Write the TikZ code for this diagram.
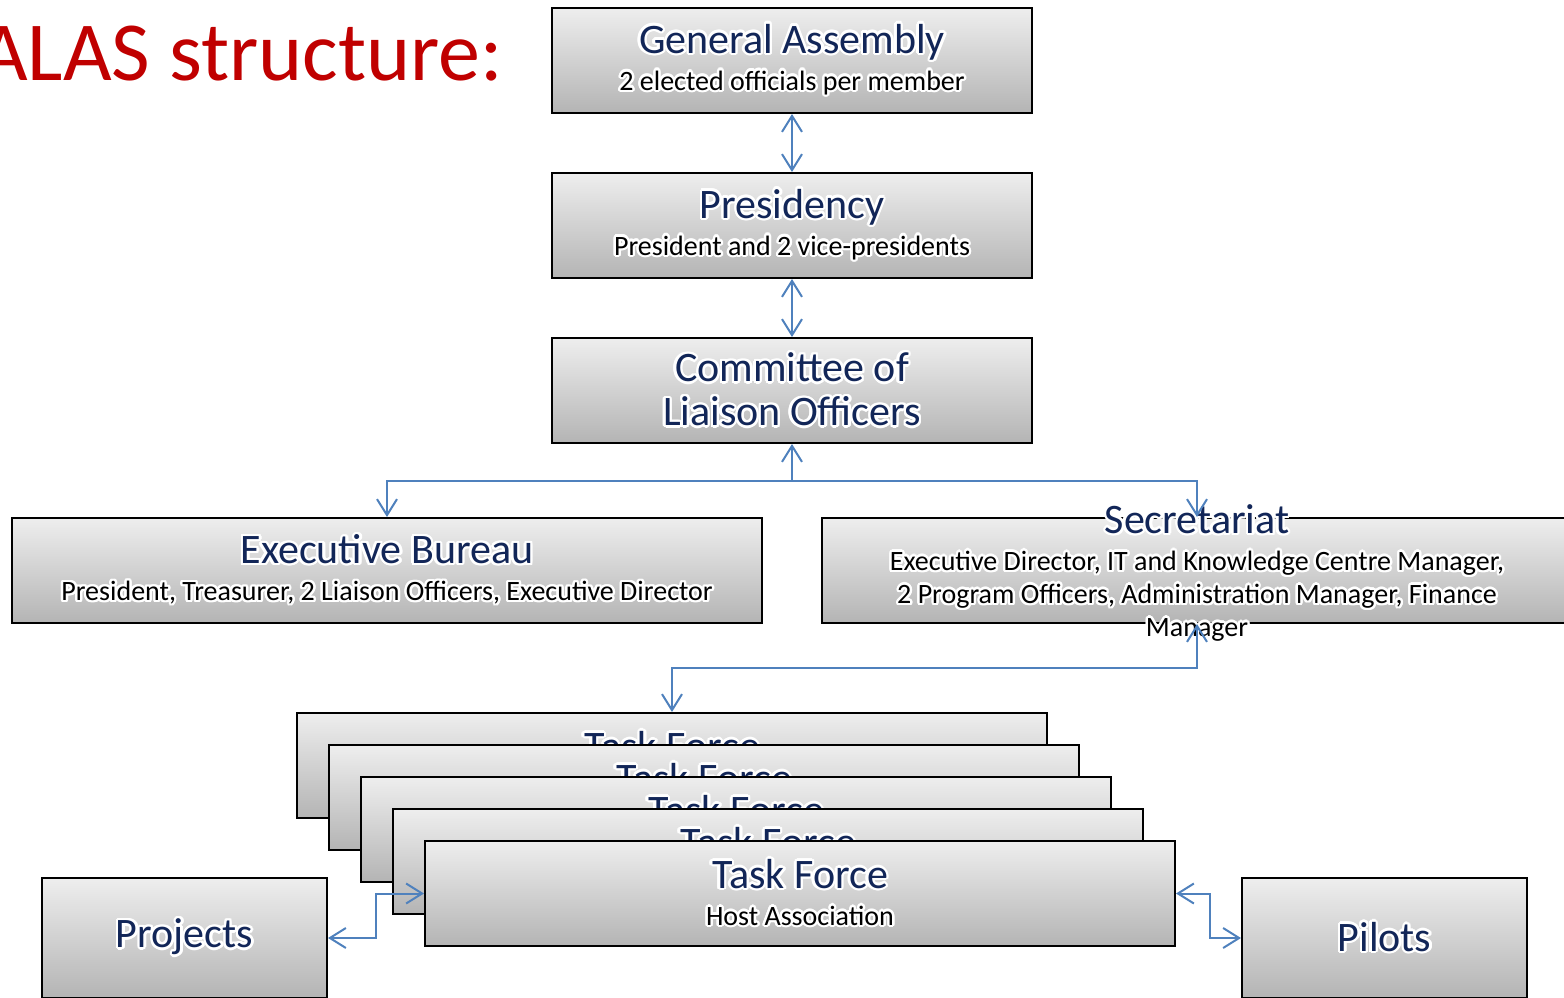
\documentclass[tikz,border=0pt]{standalone}
\usepackage{fontspec}
\setmainfont{Carlito}
\usepackage[copies]{contour}
\usetikzlibrary{arrows.meta}
\definecolor{navy}{RGB}{18,38,88}
\definecolor{linkblue}{RGB}{79,129,189}
\definecolor{titlered}{RGB}{192,0,0}
\definecolor{boxtop}{RGB}{238,238,238}
\definecolor{boxbot}{RGB}{180,180,180}
\contourlength{1.2pt}
\newcommand{\boxhead}[1]{{\fontsize{21}{22}\selectfont\color{navy}\contour{white}{#1}}}
\newcommand{\boxtext}[1]{{\color{black}\contour{white}{#1}}}
\tikzset{> = {Straight Barb[length=8pt,width=10pt]}}
\tikzset{
  orgbox/.style={draw=black, line width=1pt, top color=boxtop, bottom color=boxbot,
    minimum width=240pt, minimum height=52.5pt, inner sep=0pt, align=center,
    font=\fontsize{14}{16.5}\selectfont},
  link/.style={draw=linkblue, line width=1pt}
}

\begin{document}
\begin{tikzpicture}[x=0.5pt, y=-0.5pt]
\useasboundingbox (0,0) rectangle (1564,997);
% title
\node[anchor=base east, text=titlered, font=\fontsize{42}{48}\selectfont] (title) at (510,80) {ALAS structure:};
% nodes
\node[orgbox] (ga) at (792,60.5) {\boxhead{General Assembly}\\[2pt] \boxtext{2 elected officials per member}};
\node[orgbox] (pres) at (792,225.5) {\boxhead{Presidency}\\[2pt] \boxtext{President and 2 vice-presidents}};
\node[orgbox, font=\fontsize{21}{22}\selectfont] (col) at (792,390.5) {\boxhead{Committee of}\\ \boxhead{Liaison Officers}};
\node[orgbox, minimum width=375pt] (eb) at (387,570.5) {\boxhead{Executive Bureau}\\[2pt] \boxtext{President, Treasurer, 2 Liaison Officers, Executive Director}};
\node[orgbox, minimum width=375pt] (sec) at (1197,570.5) {};
\node[align=center, inner sep=0pt, font=\fontsize{14}{16.5}\selectfont] (sectext) at (1197,574) {\boxhead{Secretariat}\\[2pt] \boxtext{Executive Director, IT and Knowledge Centre Manager,}\\ \boxtext{2 Program Officers, Administration Manager, Finance}\\ \boxtext{Manager}};
\foreach \i in {1,...,5}
  \node[orgbox, minimum width=375pt] (tf\i) at ({672+32*(\i-1)},{765.5+32*(\i-1)}) {\boxhead{Task Force}\\[2pt] \boxtext{Host Association}};
\node[orgbox, minimum width=142.5pt, minimum height=60pt] (proj) at (184.5,938) {\boxhead{Projects}};
\node[orgbox, minimum width=142.5pt, minimum height=60pt] (pil) at (1384.5,938) {\boxhead{Pilots}};
% edges
\coordinate (split) at (792,481);
\coordinate (secdrop) at (1197,668);
\draw[link, <->] (ga) -- (pres);
\draw[link, <->] (pres) -- (col);
\draw[link, <-] (col.south) -- (split);
\draw[link, ->] (split) -| (eb.north);
\draw[link, ->] (split) -| (sec.north);
\draw[link, <->] (sec.south) -- (secdrop) -| (tf1.north);
\draw[link, <->] (tf5.west) -- ++(-48,0) |- (proj.east);
\draw[link, <->] (tf5.east) -- ++(34,0) |- (pil.west);
\end{tikzpicture}
\end{document}
